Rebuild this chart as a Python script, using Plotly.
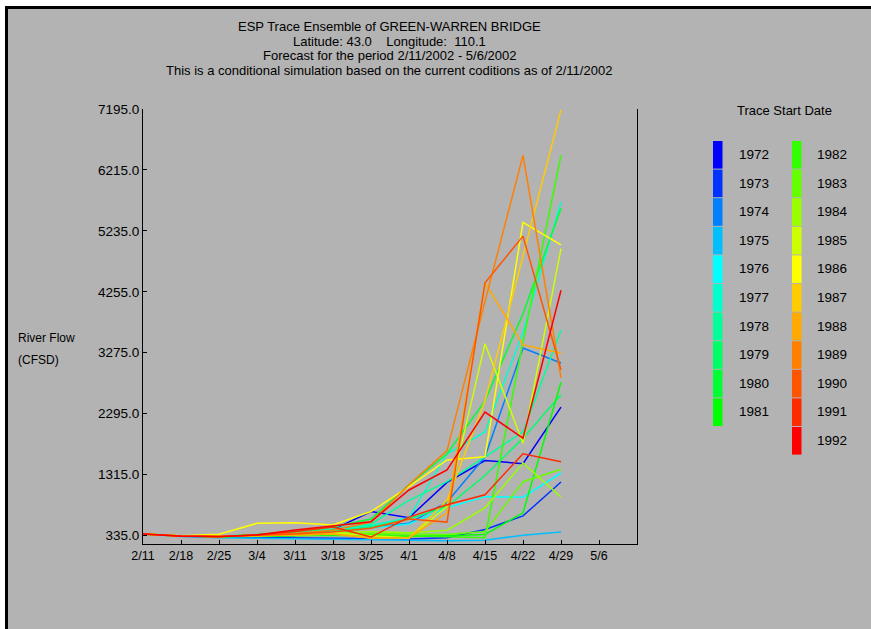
import plotly.graph_objects as go

# ---------------- data ----------------
dates = ["2002-02-11", "2002-02-18", "2002-02-25", "2002-03-04", "2002-03-11", "2002-03-18",
         "2002-03-25", "2002-04-01", "2002-04-08", "2002-04-15", "2002-04-22", "2002-04-29"]

tick_dates = ["2002-02-11", "2002-02-18", "2002-02-25", "2002-03-04", "2002-03-11", "2002-03-18",
              "2002-03-25", "2002-04-01", "2002-04-08", "2002-04-15", "2002-04-22", "2002-04-29",
              "2002-05-06"]
tick_labels = ["2/11", "2/18", "2/25", "3/4", "3/11", "3/18", "3/25", "4/1", "4/8", "4/15",
               "4/22", "4/29", "5/6"]

y_ticks = [335.0, 1315.0, 2295.0, 3275.0, 4255.0, 5235.0, 6215.0, 7195.0]

years = [1972, 1973, 1974, 1975, 1976, 1977, 1978, 1979, 1980, 1981, 1982,
         1983, 1984, 1985, 1986, 1987, 1988, 1989, 1990, 1991, 1992]

colors = ["#0000ff", "#0033ff", "#0080ff", "#00bfff", "#00ffff", "#00ffcc", "#00ff99",
          "#00ff66", "#00ff33", "#00ff00", "#33ff00", "#66ff00", "#99ff00", "#ccff00",
          "#ffff00", "#ffcc00", "#ffaa00", "#ff8000", "#ff5500", "#ff2b00", "#ff0000"]

flow = {
    1972: [360, 325, 315, 320, 335, 430, 720, 620, 1190, 1540, 1490, 2400],
    1973: [360, 325, 310, 300, 295, 290, 285, 280, 300, 430, 650, 1195],
    1974: [360, 325, 315, 320, 340, 390, 470, 530, 870, 1600, 3350, 3110],
    1975: [360, 320, 300, 290, 280, 270, 265, 255, 250, 260, 340, 390],
    1976: [360, 325, 315, 330, 350, 390, 450, 520, 780, 960, 950, 1340],
    1977: [360, 325, 320, 340, 370, 420, 500, 620, 1650, 2000, 3600, 5700],
    1978: [360, 325, 320, 345, 380, 440, 520, 900, 1200, 1600, 2000, 3640],
    1979: [360, 325, 320, 330, 360, 400, 470, 600, 800, 1300, 1900, 2600],
    1980: [360, 325, 320, 350, 400, 470, 600, 1150, 1650, 2500, 3900, 5600],
    1981: [360, 325, 315, 320, 330, 340, 330, 320, 330, 350, 700, 2800],
    1982: [360, 325, 320, 330, 340, 350, 350, 330, 320, 300, 3450, 6450],
    1983: [360, 325, 320, 330, 345, 360, 370, 360, 350, 400, 1200, 1400],
    1984: [360, 325, 320, 335, 350, 380, 400, 380, 420, 780, 1500, 955],
    1985: [360, 325, 320, 340, 360, 380, 330, 300, 800, 3420, 1820, 4950],
    1986: [360, 330, 355, 530, 540, 505, 720, 1120, 1550, 1600, 5370, 5010],
    1987: [360, 325, 320, 330, 345, 360, 300, 290, 900, 2500, 4830, 7180],
    1988: [360, 325, 320, 335, 350, 360, 290, 300, 700, 4400, 3400, 3270],
    1989: [360, 325, 320, 340, 370, 420, 550, 1150, 1700, 4100, 6450, 2870],
    1990: [360, 325, 320, 335, 360, 390, 450, 600, 550, 4400, 5150, 3000],
    1991: [360, 325, 320, 345, 400, 470, 310, 630, 830, 990, 1650, 1520],
    1992: [360, 322, 316, 343, 423, 488, 557, 1067, 1390, 2320, 1900, 4280],
}

title_lines = ["ESP Trace Ensemble of GREEN-WARREN BRIDGE",
               "Latitude: 43.0    Longitude:  110.1",
               "Forecast for the period 2/11/2002 - 5/6/2002",
               "This is a conditional simulation based on the current coditions as of 2/11/2002"]

# ---------------- layout geometry (pixels) ----------------
W, H = 871, 629
L, R, T, B = 143, 637, 109, 544
BG = "#b3b3b3"
FONT = "Liberation Sans, Arial, Helvetica, sans-serif"


def px(x):
    return (x - L) / (R - L)


def py(y):
    return (B - y) / (B - T)


fig = go.Figure()
for yr, col in zip(years, colors):
    fig.add_trace(go.Scatter(x=dates, y=flow[yr], mode="lines", name=str(yr),
                             line=dict(color=col, width=1.5), showlegend=False))

shapes = []
# white strip and black frame lines
shapes.append(dict(type="rect", xref="paper", yref="paper", x0=px(0), x1=px(W), y0=py(0), y1=py(6),
                   fillcolor="white", line=dict(width=0), layer="below"))
shapes.append(dict(type="rect", xref="paper", yref="paper", x0=px(0), x1=px(5), y0=py(0), y1=py(H),
                   fillcolor="white", line=dict(width=0), layer="below"))
shapes.append(dict(type="rect", xref="paper", yref="paper", x0=px(5), x1=px(W), y0=py(6), y1=py(9),
                   fillcolor="black", line=dict(width=0), layer="below"))
shapes.append(dict(type="rect", xref="paper", yref="paper", x0=px(5), x1=px(8), y0=py(6), y1=py(H),
                   fillcolor="black", line=dict(width=0), layer="below"))

annotations = []
for i, t in enumerate(title_lines):
    annotations.append(dict(text=t, xref="paper", yref="paper", x=px(389), y=py(26 + 15 * i),
                            xanchor="center", yanchor="middle", showarrow=False,
                            font=dict(family=FONT, size=13, color="black")))

annotations.append(dict(text="River Flow", xref="paper", yref="paper", x=px(16), y=py(338),
                        xanchor="left", yanchor="middle", showarrow=False,
                        font=dict(family=FONT, size=12, color="black")))
annotations.append(dict(text="(CFSD)", xref="paper", yref="paper", x=px(16), y=py(360),
                        xanchor="left", yanchor="middle", showarrow=False,
                        font=dict(family=FONT, size=12, color="black")))

# manual two-column legend
annotations.append(dict(text="Trace Start Date", xref="paper", yref="paper", x=px(784), y=py(111),
                        xanchor="center", yanchor="middle", showarrow=False,
                        font=dict(family=FONT, size=13, color="black")))
row_h = 28.6
for i, (yr, col) in enumerate(zip(years, colors)):
    c = 0 if i < 10 else 1
    r = i if i < 10 else i - 10
    bx0 = 713 if c == 0 else 792
    lx = 737 if c == 0 else 815
    top = 141 + r * row_h
    shapes.append(dict(type="rect", xref="paper", yref="paper", x0=px(bx0), x1=px(bx0 + 9.5),
                       y0=py(top + row_h - 1), y1=py(top), fillcolor=col, line=dict(width=0)))
    annotations.append(dict(text=str(yr), xref="paper", yref="paper", x=px(lx), y=py(top + 13.5),
                            xanchor="left", yanchor="middle", showarrow=False,
                            font=dict(family=FONT, size=13.5, color="black")))

fig.update_layout(
    width=W, height=H,
    margin=dict(l=L, r=W - R, t=T, b=H - B, pad=0),
    paper_bgcolor=BG, plot_bgcolor=BG,
    showlegend=False,
    shapes=shapes, annotations=annotations,
    font=dict(family=FONT, size=12, color="black"),
    xaxis=dict(type="date", range=["2002-02-11", "2002-05-13"], tickvals=tick_dates,
               ticktext=tick_labels, ticks="inside", ticklen=4, tickcolor="black",
               showline=True, linecolor="black", linewidth=1, showgrid=False, zeroline=False,
               tickfont=dict(family=FONT, size=12.5, color="black"), fixedrange=True),
    yaxis=dict(range=[198, 7195], tickvals=y_ticks, ticktext=[f"{v:.1f}" for v in y_ticks],
               ticks="inside", ticklen=4, tickcolor="black", showline=True, mirror=True,
               linecolor="black", linewidth=1, showgrid=False, zeroline=False,
               tickfont=dict(family=FONT, size=13.5, color="black"), fixedrange=True),
)

fig.write_html("out.html", config={"displayModeBar": False},
               post_script="document.body.style.margin='0';document.body.style.padding='0';")
